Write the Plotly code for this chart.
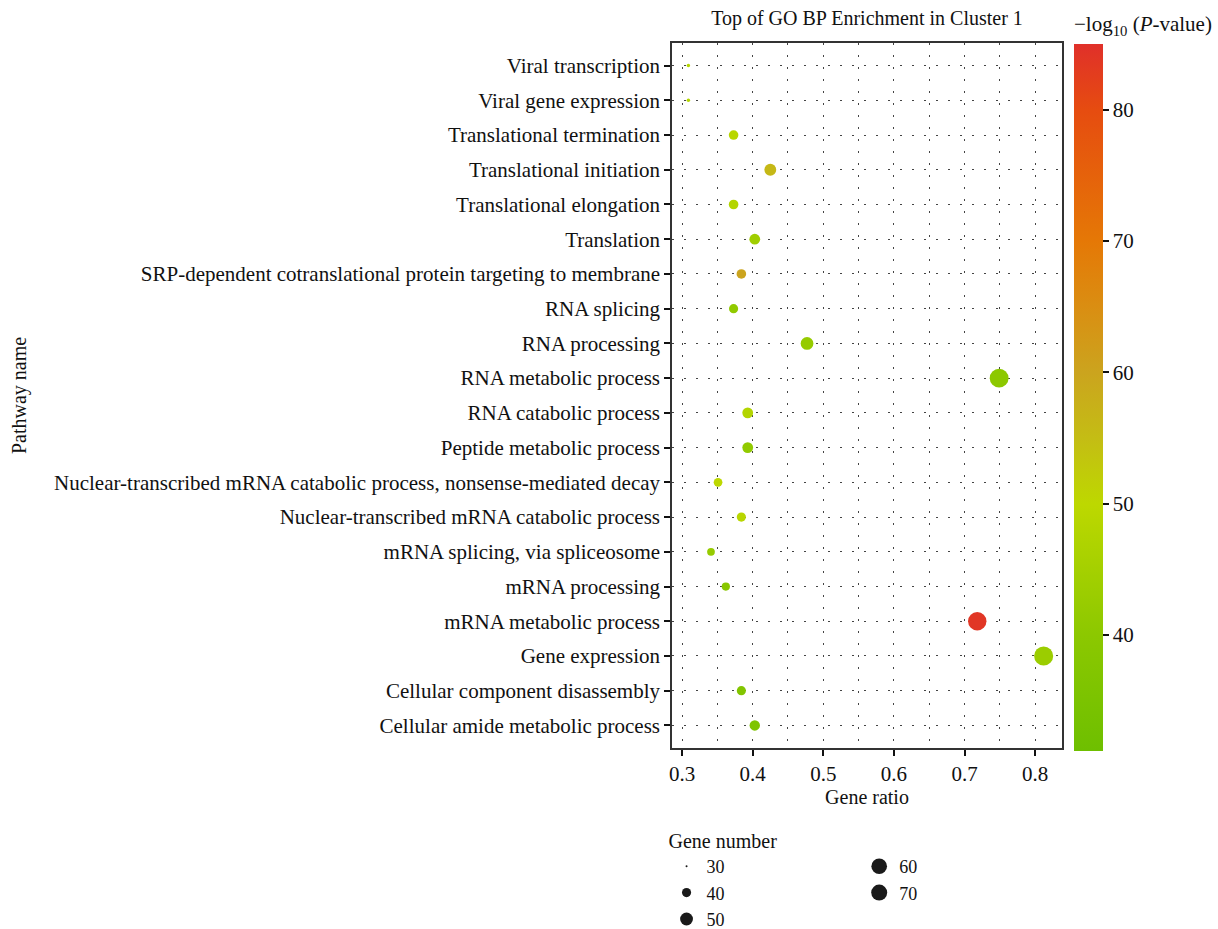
import numpy as np
import plotly.graph_objects as go

# GO BP terms, listed bottom to top
pathways = [
    "Cellular amide metabolic process",
    "Cellular component disassembly",
    "Gene expression",
    "mRNA metabolic process",
    "mRNA processing",
    "mRNA splicing, via spliceosome",
    "Nuclear-transcribed mRNA catabolic process",
    "Nuclear-transcribed mRNA catabolic process, nonsense-mediated decay",
    "Peptide metabolic process",
    "RNA catabolic process",
    "RNA metabolic process",
    "RNA processing",
    "RNA splicing",
    "SRP-dependent cotranslational protein targeting to membrane",
    "Translation",
    "Translational elongation",
    "Translational initiation",
    "Translational termination",
    "Viral gene expression",
    "Viral transcription",
]
gene_ratio = [0.403, 0.384, 0.812, 0.718, 0.362, 0.341, 0.384, 0.351, 0.393, 0.393,
              0.749, 0.477, 0.373, 0.384, 0.403, 0.373, 0.425, 0.373, 0.309, 0.309]
gene_number = [43, 40, 75, 72, 38, 37, 40, 39, 44, 44,
               74, 50, 40, 41, 44, 41, 47, 41, 31, 31]
neg_log10_p = [36, 37, 43, 84, 39, 42, 49, 50, 41, 48,
               40, 42, 41, 60, 44, 48, 56, 49, 48, 48]

legend_breaks = [30, 40, 50, 60, 70]
x_ticks = [0.3, 0.4, 0.5, 0.6, 0.7, 0.8]
cbar_ticks = [40, 50, 60, 70, 80]

FONT = "Liberation Serif"
FS = 21
INK = "#111111"


def size_px(n):
    # point area grows linearly with gene number
    n = np.asarray(n, dtype=float)
    return np.sqrt(np.clip(8.0 * (n - 29.5), 4.0, None))


colorscale = [
    [0.000, "#6ebf00"],
    [0.164, "#8cc800"],
    [0.349, "#bdd800"],
    [0.442, "#c4bd14"],
    [0.535, "#cba41e"],
    [0.628, "#da8e12"],
    [0.721, "#e57806"],
    [0.907, "#e64c10"],
    [1.000, "#e0302a"],
]

fig = go.Figure()

fig.add_trace(go.Scatter(
    x=gene_ratio,
    y=pathways,
    mode="markers",
    showlegend=False,
    marker=dict(
        size=size_px(gene_number),
        color=neg_log10_p,
        colorscale=colorscale,
        cmin=31.2,
        cmax=85.0,
        opacity=1,
        line=dict(width=0),
        colorbar=dict(
            title=dict(text="\u2212log<sub>10</sub> (<i>P</i>-value)", side="top",
                       font=dict(family=FONT, size=FS, color=INK)),
            thickness=29,
            lenmode="pixels",
            len=738,
            x=1.0,
            xref="paper",
            xanchor="left",
            xpad=12,
            y=1.043,
            yanchor="top",
            ypad=0,
            outlinewidth=0,
            tickvals=cbar_ticks,
            ticks="outside",
            ticklen=6,
            tickwidth=2,
            tickcolor=INK,
            tickfont=dict(family=FONT, size=FS, color=INK),
        ),
    ),
))

# size legend entries (gene number)
for i, b in enumerate(legend_breaks):
    fig.add_trace(go.Scatter(
        x=[None], y=[None], mode="markers", name=str(b),
        marker=dict(size=float(size_px([b])[0]), color="#1a1a1a", line=dict(width=0)),
        legend="legend" if i < 3 else "legend2",
        showlegend=True,
    ))

grid_style = dict(showgrid=True, gridcolor="#444", gridwidth=1, griddash="2px,10px")

fig.update_layout(
    width=1218,
    height=929,
    margin=dict(l=672, r=156, t=43, b=181, autoexpand=False),
    paper_bgcolor="white",
    plot_bgcolor="white",
    font=dict(family=FONT, size=FS, color=INK),
    title=dict(text="Top of GO BP Enrichment in Cluster 1", x=0.5, xref="paper",
               xanchor="center", y=1 - 18 / 929, yanchor="middle",
               font=dict(family=FONT, size=FS - 1, color=INK)),
    xaxis=dict(
        range=[0.2858, 0.838],
        tickvals=x_ticks,
        ticktext=[f"{v:.1f}" for v in x_ticks],
        ticks="outside", ticklen=6, tickwidth=2, tickcolor=INK,
        showline=True, linecolor="#333", linewidth=1.5, mirror=True,
        zeroline=False,
        title=dict(text="Gene ratio", standoff=3, font=dict(family=FONT, size=FS - 1)),
        minor=dict(dtick=0.05, tick0=0.3, showgrid=True, gridcolor="#444",
                   gridwidth=1, griddash="2px,10px"),
        **grid_style,
    ),
    yaxis=dict(
        categoryorder="array",
        categoryarray=pathways,
        range=[-0.65, len(pathways) - 0.35],
        ticks="outside", ticklen=6, tickwidth=2, tickcolor=INK,
        showline=True, linecolor="#333", linewidth=1.5, mirror=True,
        zeroline=False,
        title=dict(text="Pathway name", standoff=22, font=dict(family=FONT, size=FS - 1)),
        **grid_style,
    ),
    legend=dict(
        title=dict(text="Gene number", side="top", font=dict(family=FONT, size=FS - 1)),
        xref="paper", yref="container",
        x=-0.014, xanchor="left", y=1 - 822 / 929, yanchor="top",
        orientation="v", itemsizing="trace", tracegroupgap=0,
        bgcolor="rgba(0,0,0,0)", font=dict(family=FONT, size=18),
    ),
    legend2=dict(
        xref="paper", yref="container",
        x=0.48, xanchor="left", y=1 - 848 / 929, yanchor="top",
        orientation="v", itemsizing="trace", tracegroupgap=0,
        bgcolor="rgba(0,0,0,0)", font=dict(family=FONT, size=18),
    ),
)

fig.write_html("out.html")
